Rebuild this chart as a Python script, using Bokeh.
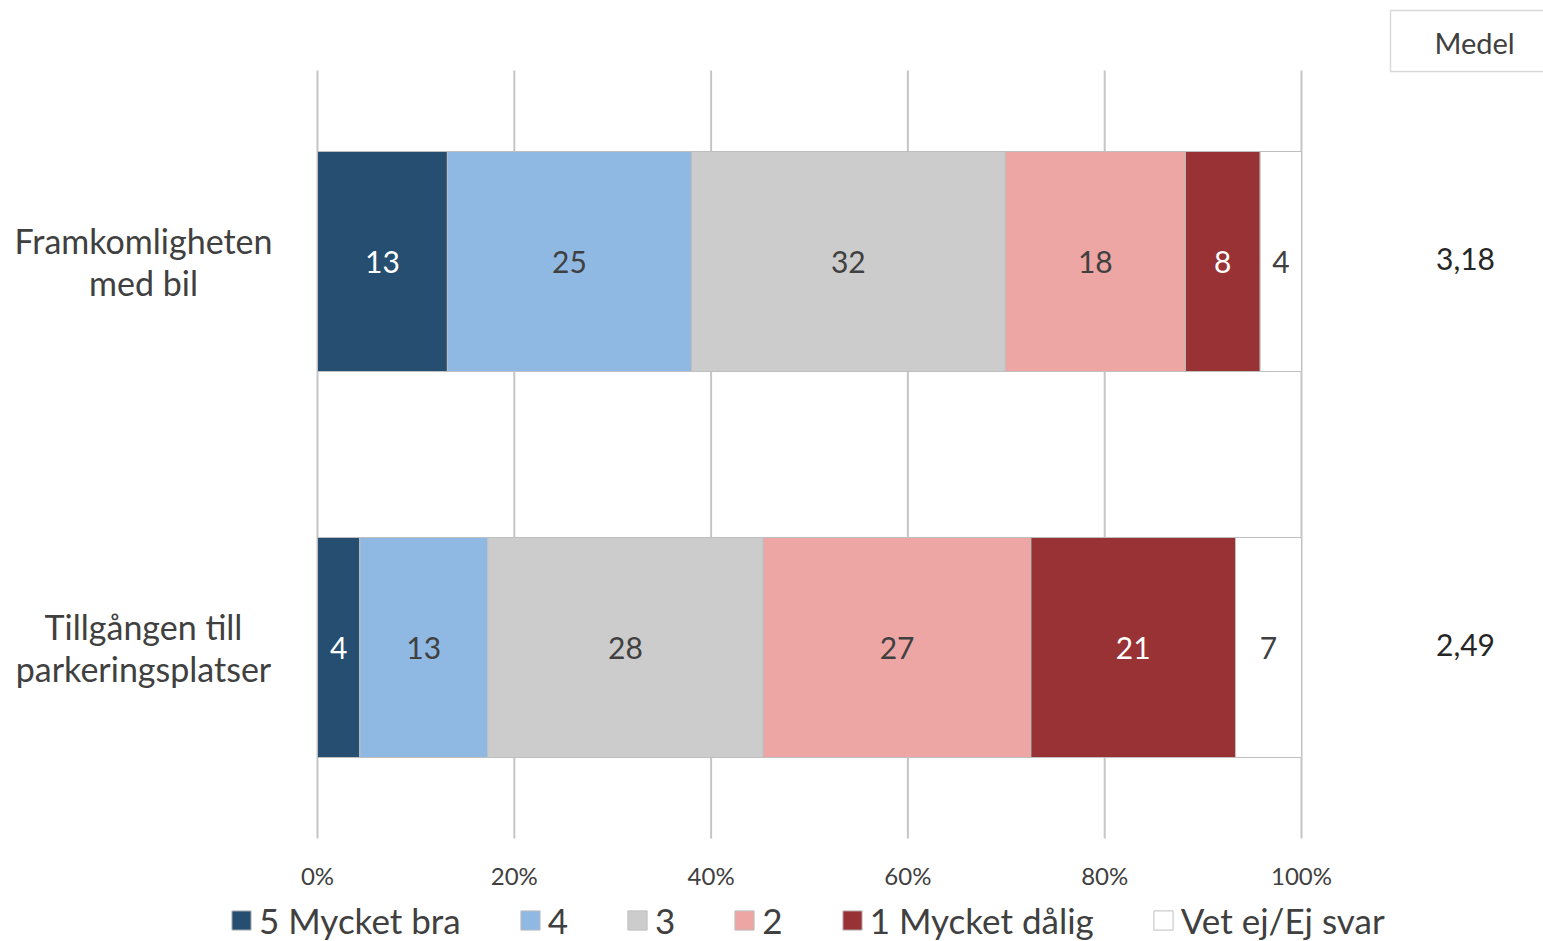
from bokeh.plotting import figure
from bokeh.models import Range1d, Legend, LegendItem, ColumnDataSource
from bokeh.core.properties import value
from bokeh.embed import file_html
from bokeh.resources import INLINE

# ---------------- data ----------------
categories = ["Framkomligheten\nmed bil", "Tillgången till\nparkeringsplatser"]
series = ["5 Mycket bra", "4", "3", "2", "1 Mycket dålig", "Vet ej/Ej svar"]
s5 = [13.2, 4.3]
s4 = [24.8, 13.0]
s3 = [31.9, 28.0]
s2 = [18.3, 27.2]
s1 = [7.6, 20.8]
s_vet = [4.2, 6.7]
medel = ["3,18", "2,49"]
medel_title = "Medel"
ticks = [0, 20, 40, 60, 80, 100]
tick_labels = ["0%", "20%", "40%", "60%", "80%", "100%"]

# ---------------- style ----------------
colors = ["#264E70", "#8FB9E3", "#CCCCCC", "#EDA6A4", "#983234", "#FFFFFF"]
label_colors = ["#FFFFFF", "#404040", "#404040", "#404040", "#FFFFFF", "#404040"]
FONT = "Lato"
TXT = "#404040"
W, H = 1543, 941
PX = 9.84          # pixels per percent
X0 = 317           # canvas x of 0 %
UNIT = 386         # pixels between category centres
YB = 647           # canvas y of the lower category centre

p = figure(width=W, height=H, output_backend="svg", toolbar_location=None,
           x_axis_location=None, y_axis_location=None,
           x_range=Range1d(-X0 / PX, (W - X0) / PX),
           y_range=Range1d((YB - H) / UNIT, YB / UNIT),
           min_border=0, min_border_left=0, min_border_right=0,
           min_border_top=0, min_border_bottom=0)
p.outline_line_color = None
p.grid.visible = False
p.background_fill_color = "white"

n = len(categories)
ypos = [n - 1 - i for i in range(n)]
grid_lo = (YB - 838) / UNIT
grid_hi = (YB - 70) / UNIT

# gridlines
p.segment(x0=ticks, x1=ticks, y0=[grid_lo] * len(ticks), y1=[grid_hi] * len(ticks),
          line_color="#C6C6C6", line_width=2)

# tick labels
p.text(x=ticks, y=[(YB - 875) / UNIT] * len(ticks), text=tick_labels,
       text_font=value(FONT), text_font_size="24px", text_color=TXT,
       text_align="center", text_baseline="middle")

# stacked bars
all_series = [s5, s4, s3, s2, s1, s_vet]
left = [0.0] * n
renderers = []
for k, vals in enumerate(all_series):
    right = [l + v for l, v in zip(left, vals)]
    src = ColumnDataSource(dict(y=ypos, left=left, right=right,
                                mid=[(l + r) / 2 for l, r in zip(left, right)],
                                lab=[str(int(round(v))) for v in vals]))
    r = p.hbar(y="y", left="left", right="right", height=0.57, source=src,
               fill_color=colors[k], line_color="#BFBFBF", line_width=1)
    renderers.append(r)
    p.text(x="mid", y="y", text="lab", source=src, text_font=value(FONT),
           text_font_size="30px", text_color=label_colors[k],
           text_align="center", text_baseline="middle")
    left = right

# category labels (two lines each)
line1 = [c.split("\n")[0] for c in categories]
line2 = [c.split("\n")[1] for c in categories]
cat_x = (143 - X0) / PX
p.text(x=[cat_x] * n, y=ypos, text=line1, y_offset=-21, text_font=value(FONT),
       text_font_size="34px", text_color=TXT, text_align="center", text_baseline="middle")
p.text(x=[cat_x] * n, y=ypos, text=line2, y_offset=21, text_font=value(FONT),
       text_font_size="34px", text_color=TXT, text_align="center", text_baseline="middle")

# Medel box and values
p.quad(left=[(1390 - X0) / PX], right=[140], top=[(YB - 10) / UNIT], bottom=[(YB - 71) / UNIT],
       fill_color="white", line_color="#D9D9D9", line_width=1.5)
p.text(x=[(1474 - X0) / PX], y=[(YB - 42) / UNIT], text=[medel_title], text_font=value(FONT),
       text_font_size="29px", text_color=TXT, text_align="center", text_baseline="middle")
p.text(x=[(1465 - X0) / PX] * n, y=ypos, text=medel, y_offset=-3, text_font=value(FONT),
       text_font_size="30px", text_color="#262626", text_align="center", text_baseline="middle")

# legend
legend = Legend(items=[LegendItem(label=series[k], renderers=[renderers[k]]) for k in range(len(series))],
                orientation="horizontal", location=(229, 0),
                glyph_width=24, glyph_height=24, label_standoff=6, spacing=57,
                padding=0, margin=0, border_line_color=None, background_fill_alpha=0,
                label_text_font=FONT, label_text_font_size="35px", label_text_color=TXT)
p.add_layout(legend)

open("out.html", "w").write(file_html(p, INLINE, title="Chart"))
